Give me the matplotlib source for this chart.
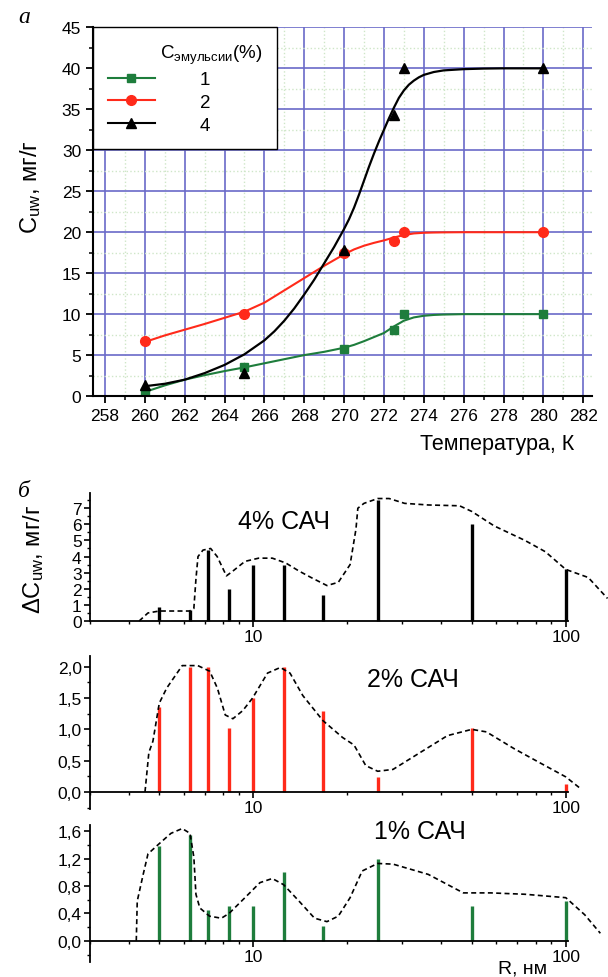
import matplotlib
matplotlib.use("Agg")
import matplotlib.pyplot as plt
from matplotlib.lines import Line2D
from matplotlib.ticker import MultipleLocator, FixedLocator, FuncFormatter, LogLocator, NullFormatter

plt.rcParams['font.family'] = ['Liberation Sans', 'DejaVu Sans']
plt.rcParams['mathtext.fontset'] = 'custom'
plt.rcParams['mathtext.rm'] = 'Liberation Sans'
plt.rcParams['mathtext.it'] = 'Liberation Sans:italic'

# --- panel a: measured points ---
temp = [260, 265, 270, 272.5, 273, 280]
c1 = [0.5, 3.5, 5.8, 8.1, 10, 10]
c2 = [6.7, 10, 17.5, 18.9, 20, 20]
c4 = [1.3, 2.8, 17.8, 34.3, 40, 40]

# fitted curves
t_fit = [260, 261, 262, 263, 264, 265, 266, 267, 268, 269, 270, 270.5, 271,
         271.5, 272, 272.5, 273, 273.5, 274, 274.5, 275, 276, 278, 280]
fit1 = [0.5, 1.3, 2.0, 2.55, 3.05, 3.5, 4.0, 4.5, 5.0, 5.4, 5.9, 6.25, 6.7,
        7.2, 7.7, 8.5, 9.2, 9.6, 9.8, 9.9, 9.95, 10, 10, 10]
fit2 = [6.6, 7.4, 8.1, 8.8, 9.55, 10.3, 11.4, 12.9, 14.4, 15.9, 17.3, 17.9, 18.35,
        18.7, 19.0, 19.35, 19.65, 19.85, 19.93, 19.96, 19.98, 20, 20, 20]
t_fit4 = [260, 261, 262, 263, 264, 265, 266, 266.5, 267, 267.5, 268, 268.5, 269,
          269.5, 270, 270.25, 270.5, 270.75, 271, 271.25, 271.5, 271.75, 272,
          272.25, 272.5, 272.75, 273, 273.25, 273.5, 273.75, 274, 274.5, 275,
          276, 277, 278, 280]
fit4 = [1.2, 1.5, 2.0, 2.8, 3.8, 5.1, 6.8, 7.9, 9.2, 10.7, 12.4, 14.2, 16.2,
        18.2, 20.4, 21.6, 23.0, 24.6, 26.3, 28.0, 29.6, 31.1, 32.5,
        33.9, 35.2, 36.4, 37.3, 38.0, 38.5, 38.9, 39.2, 39.55, 39.75,
        39.9, 39.97, 40, 40]

# --- panel b: pore radius distributions ---
radius = [5, 6.25, 7.14, 8.33, 10, 12.5, 16.7, 25, 50, 100]
d4 = [0.9, 0.7, 4.4, 2.0, 3.5, 3.5, 1.6, 7.5, 6.0, 3.2]
d2 = [1.35, 2.0, 2.0, 1.02, 1.5, 2.0, 1.3, 0.24, 1.02, 0.12]
d1 = [1.39, 1.55, 0.45, 0.51, 0.51, 1.01, 0.21, 1.2, 0.51, 0.58]

# dashed envelopes
r_env4 = [4.31, 4.6, 5.0, 6.25, 6.45, 6.55, 6.65, 6.9, 7.3, 7.66, 8.2, 8.6, 9.4,
          10.4, 11.5, 12.7, 14.0, 15.3, 17.2, 18.7, 20.4, 21.3, 21.6, 22.6, 25,
          27.2, 30.5, 36.3, 45.7, 50, 59, 74, 86, 100, 118, 136]
env4 = [0, 0.5, 0.62, 0.62, 0.78, 2.6, 4.0, 4.4, 4.5, 4.0, 2.8, 3.1, 3.7,
        3.9, 3.9, 3.6, 3.1, 2.7, 2.2, 2.4, 3.5, 5.7, 7.0, 7.3, 7.6,
        7.6, 7.3, 7.2, 7.15, 6.8, 5.9, 5.0, 4.3, 3.2, 2.7, 1.4]
r_env2 = [4.5, 4.63, 4.77, 5.0, 5.28, 5.92, 6.64, 7.25, 7.67, 8.13, 8.6, 9.25,
          9.94, 11.1, 12.2, 13.1, 14.4, 16.7, 19.3, 21.0, 22.9, 25, 28, 34.2,
          41.8, 50, 55.7, 68.4, 83.7, 100, 111]
env2 = [0, 0.63, 0.81, 1.42, 1.66, 2.02, 2.02, 1.93, 1.66, 1.23, 1.17, 1.3,
        1.5, 1.9, 1.99, 1.9, 1.54, 1.14, 0.87, 0.75, 0.42, 0.33, 0.36, 0.63,
        0.9, 1.0, 0.96, 0.69, 0.45, 0.24, 0.06]
r_env1 = [4.22, 4.25, 4.44, 4.6, 5.0, 5.45, 5.92, 6.27, 6.45, 6.55, 6.74, 7.24,
          7.9, 8.36, 9.4, 10.5, 11.5, 12.5, 14.0, 15.7, 17.2, 18.7, 20.4, 22.3,
          25, 28, 36.3, 47, 57.5, 74, 100, 115, 129]
env1 = [0, 0.58, 0.97, 1.27, 1.42, 1.57, 1.64, 1.57, 1.22, 0.68, 0.48, 0.36,
        0.33, 0.40, 0.63, 0.85, 0.91, 0.82, 0.58, 0.33, 0.28, 0.36, 0.63, 1.02,
        1.13, 1.12, 0.97, 0.70, 0.70, 0.68, 0.63, 0.38, 0.11]

green = '#1e7d3c'
red = '#ff2a1a'

fig = plt.figure(figsize=(6.08, 9.78), dpi=100)

# ---------- panel a ----------
ax = fig.add_axes([0.153, 0.594, 0.821, 0.377])
ax.set_axisbelow(True)
ax.plot(t_fit, fit1, color=green, lw=1.5)
ax.plot(t_fit, fit2, color=red, lw=1.5)
ax.plot(t_fit4, fit4, color='black', lw=1.6)
ax.plot(temp, c1, 's', color=green, ms=6, ls='none')
ax.plot(temp, c2, 'o', color=red, ms=7, ls='none')
ax.plot(temp, c4, '^', color='black', ms=7.5, ls='none')
ax.set_xlim(257.4, 282.45)
ax.set_ylim(0, 45)
ax.xaxis.set_major_locator(MultipleLocator(2))
ax.xaxis.set_minor_locator(MultipleLocator(1))
ax.yaxis.set_major_locator(MultipleLocator(5))
ax.yaxis.set_minor_locator(MultipleLocator(2.5))
ax.grid(which='major', color='#6a6ac8', lw=1.2)
ax.grid(which='minor', color='#cfe6c8', lw=1.0, ls=':')
for s in ['top', 'right']:
    ax.spines[s].set_visible(False)
for s in ['left', 'bottom']:
    ax.spines[s].set_linewidth(1.5)
ax.tick_params(which='major', direction='out', length=5, width=1.3, labelsize=12.5)
ax.tick_params(which='minor', direction='out', length=3, width=1.1)
ax.set_xlabel('Температура, К', fontsize=15.5)
ax.xaxis.set_label_coords(0.965, -0.1)
ax.xaxis.label.set_ha('right')
ax.set_ylabel('C$_{\\mathrm{uw}}$, мг/г', fontsize=17)
ax.yaxis.set_label_coords(-0.1, 0.57)

# legend
handles = [Line2D([], [], color=green, marker='s', ms=6, lw=1.5),
           Line2D([], [], color=red, marker='o', ms=7, lw=1.5),
           Line2D([], [], color='black', marker='^', ms=7.5, lw=1.5)]
leg = ax.legend(handles, ['1', '2', '4'],
                title='          C$_{\\mathrm{эмульсии}}$(%)',
                loc='upper left', bbox_to_anchor=(0, 1), borderaxespad=0,
                fancybox=False, edgecolor='black', framealpha=1,
                handlelength=2.5, handletextpad=2.4, alignment='left',
                fontsize=13.5, title_fontsize=13.5, borderpad=0.8,
                labelspacing=0.3)
leg.get_frame().set_linewidth(1.0)

fig.text(0.03, 0.982, 'а', fontsize=17, style='italic', family='Liberation Serif',
         ha='left', va='center')
fig.text(0.03, 0.497, 'б', fontsize=17, style='italic', family='Liberation Serif',
         ha='left', va='center')


# ---------- panel b ----------
def setup_log_axis(a, ylim, major, minor, fmt):
    a.set_xscale('log')
    a.set_xlim(3, 102)
    a.set_ylim(*ylim)
    a.xaxis.set_major_locator(FixedLocator([10, 100]))
    a.xaxis.set_major_formatter(FuncFormatter(lambda v, p: f'{v:g}'))
    a.xaxis.set_minor_locator(LogLocator(base=10, subs=range(2, 10)))
    a.xaxis.set_minor_formatter(NullFormatter())
    a.yaxis.set_major_locator(MultipleLocator(major))
    a.yaxis.set_minor_locator(MultipleLocator(minor))
    a.yaxis.set_major_formatter(FuncFormatter(fmt))
    for s in ['top', 'right']:
        a.spines[s].set_visible(False)
    a.spines['bottom'].set_position(('data', 0))
    a.spines['left'].set_linewidth(1.3)
    a.spines['bottom'].set_linewidth(1.3)
    a.tick_params(which='major', direction='out', length=4, width=1.2, labelsize=12.5,
                  pad=2)
    a.tick_params(which='minor', direction='out', length=2.5, width=1.0)


def comma(v, p):
    return f'{v:.1f}'.replace('.', ',')


def plain(v, p):
    return f'{v:g}'


panels = [
    ([0.148, 0.364, 0.787, 0.131], (0, 7.95), 1, 0.5, plain,
     d4, 'black', r_env4, env4, '4% САЧ', (0.405, 6.2)),
    ([0.148, 0.172, 0.787, 0.156], (-0.27, 2.17), 0.5, 0.25, comma,
     d2, red, r_env2, env2, '2% САЧ', (0.675, 1.8)),
    ([0.148, 0.0153, 0.787, 0.140], (-0.31, 1.69), 0.4, 0.2, comma,
     d1, green, r_env1, env1, '1% САЧ', (0.689, 1.6)),
]

for rect, ylim, major, minor, fmt, vals, col, rx, ry, label, pos in panels:
    a = fig.add_axes(rect)
    setup_log_axis(a, ylim, major, minor, fmt)
    a.vlines(radius, 0, vals, color=col, lw=2.4, clip_on=False)
    a.plot(rx, ry, color='black', ls=(0, (3, 2)), lw=1.2, clip_on=False)
    a.text(pos[0], pos[1], label, transform=a.get_yaxis_transform(), fontsize=18,
           ha='center', va='center')

fig.text(0.055, 0.428, 'ΔC$_{\\mathrm{uw}}$, мг/г', rotation=90, fontsize=17,
         ha='center', va='center')
fig.text(0.86, 0.0, 'R, нм', fontsize=14, ha='center', va='bottom')

fig.savefig('out.png', dpi=100)
